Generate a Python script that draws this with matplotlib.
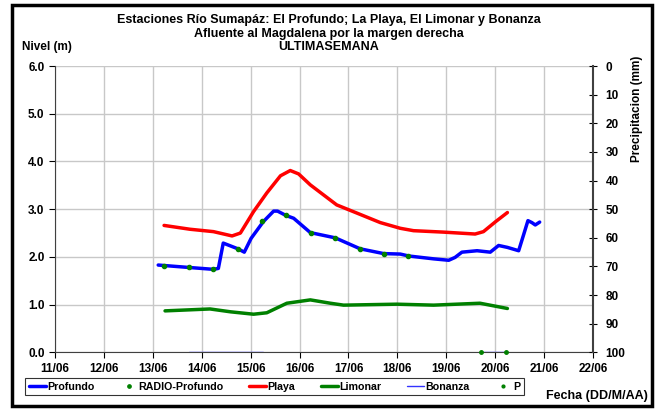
import numpy as np
import matplotlib.pyplot as plt
from matplotlib.patches import Rectangle

# Fechas en dias de junio (13.5 = 13/06 12:00)
prof_x = [13.11, 13.73, 14.24, 14.34, 14.44, 14.74, 14.87, 15.01, 15.26, 15.47, 15.55, 15.72,
          15.88, 16.22, 16.73, 17.24, 17.72, 18.06, 18.23, 18.74, 19.05, 19.18, 19.32, 19.63,
          19.90, 20.07, 20.25, 20.48, 20.58, 20.67, 20.75, 20.82, 20.91]
prof_y = [1.83, 1.78, 1.74, 1.76, 2.29, 2.17, 2.10, 2.39, 2.74, 2.96, 2.96, 2.87,
          2.81, 2.51, 2.40, 2.17, 2.07, 2.06, 2.02, 1.96, 1.93, 1.99, 2.10, 2.13,
          2.10, 2.24, 2.20, 2.13, 2.46, 2.76, 2.72, 2.67, 2.73]

radio_x = [13.23, 13.73, 14.24, 14.74, 15.23, 15.72, 16.23, 16.73, 17.24, 17.72, 18.22]
radio_y = [1.81, 1.78, 1.74, 2.17, 2.75, 2.87, 2.50, 2.40, 2.17, 2.07, 2.02]

playa_x = [13.23, 13.76, 14.24, 14.62, 14.79, 15.06, 15.33, 15.61, 15.81, 15.98, 16.22,
           16.76, 17.17, 17.65, 18.06, 18.33, 18.94, 19.59, 19.76, 20.01, 20.25]
playa_y = [2.66, 2.58, 2.53, 2.44, 2.50, 2.95, 3.34, 3.70, 3.81, 3.74, 3.51,
           3.09, 2.92, 2.72, 2.60, 2.55, 2.52, 2.48, 2.53, 2.74, 2.93]

limon_x = [13.25, 14.17, 14.59, 15.06, 15.33, 15.74, 16.22, 16.63, 16.90, 17.99, 18.74,
           19.69, 20.25]
limon_y = [0.87, 0.91, 0.85, 0.80, 0.83, 1.03, 1.10, 1.03, 0.99, 1.01, 0.99,
           1.03, 0.92]

bonanza_x = [13.74, 15.25, np.nan, 19.74, 20.22]
bonanza_y = [0.0, 0.0, np.nan, 0.0, 0.0]

p_x = [19.72, 20.22]
p_y = [0.0, 0.0]

xticks = np.arange(11, 23)
xlabels = ['%02d/06' % d for d in xticks]

plt.rcParams['font.family'] = ['Liberation Sans', 'DejaVu Sans']
plt.rcParams['font.weight'] = 'bold'
plt.rcParams['lines.solid_joinstyle'] = 'round'
plt.rcParams['lines.solid_capstyle'] = 'round'

fig = plt.figure(figsize=(6.58, 4.09), dpi=100)
ax = fig.add_axes([0.0836, 0.1384, 0.8176, 0.7002])

ax.plot(prof_x, prof_y, color='#0000ff', lw=2.5, label='Profundo', zorder=4)
ax.plot(radio_x, radio_y, 'o', color='#008000', ms=3, label='RADIO-Profundo', zorder=5)
ax.plot(playa_x, playa_y, color='#ff0000', lw=2.5, label='Playa', zorder=3)
ax.plot(limon_x, limon_y, color='#008000', lw=2.5, label='Limonar', zorder=3)
ax.plot(bonanza_x, bonanza_y, color='#3333ff', lw=1, label='Bonanza', zorder=4)
ax.plot(p_x, p_y, 'o', color='#008000', ms=2.5, label='P', zorder=5, clip_on=False)

ax.set_xlim(11, 22)
ax.set_ylim(0, 6)
ax.set_xticks(xticks)
ax.set_xticklabels(xlabels)
ax.set_yticks(np.arange(0, 6.1, 1))
ax.set_yticklabels(['%.1f' % v for v in np.arange(0, 6.1, 1)])
ax.grid(True, color='#c8c8c8', lw=1)
ax.set_axisbelow(True)
ax.tick_params(labelsize=8.5, length=4, direction='out')
for s in ['top', 'right']:
    ax.spines[s].set_visible(False)
ax.spines['left'].set_color('#404040')
ax.spines['bottom'].set_color('#404040')

# eje de precipitacion invertido
ax2 = ax.twinx()
ax2.set_ylim(100, 0)
ax2.set_yticks(np.arange(0, 101, 10))
ax2.tick_params(labelsize=8.5, length=6, direction='inout', pad=6)
ax2.spines['top'].set_visible(False)
ax2.spines['left'].set_visible(False)
ax2.spines['bottom'].set_visible(False)
ax2.spines['right'].set_color('#404040')
ax2.spines['right'].set_linewidth(1.5)
fig.text(0.968, 0.733, 'Precipitacion (mm)', rotation=90, ha='center', va='center',
         fontsize=8.5, fontweight='bold')

fig.text(0.5, 0.943, 'Estaciones Río Sumapáz: El Profundo; La Playa, El Limonar y Bonanza',
         ha='center', fontsize=9, fontweight='bold')
fig.text(0.5, 0.910, 'Afluente al Magdalena por la margen derecha',
         ha='center', fontsize=9, fontweight='bold')
fig.text(0.5, 0.877, 'ULTIMASEMANA', ha='center', fontsize=9, fontweight='bold')
fig.text(0.034, 0.877, 'Nivel (m)', fontsize=8.5, fontweight='bold')
fig.text(0.985, 0.025, 'Fecha (DD/M/AA)', ha='right', fontsize=9, fontweight='bold')

leg = fig.legend(loc='lower left', bbox_to_anchor=(0.03, 0.02), ncol=6, fontsize=7.7,
                 frameon=True, fancybox=False, edgecolor='black', handlelength=1.6,
                 handletextpad=0.1, columnspacing=2.4, borderpad=0.35, markerscale=0.8)
leg.get_frame().set_linewidth(0.8)

fig.patches.append(Rectangle((0.018, 0.008), 0.973, 0.98, transform=fig.transFigure,
                             fill=False, edgecolor='black', lw=2.5))

fig.savefig('out.png', dpi=100)
